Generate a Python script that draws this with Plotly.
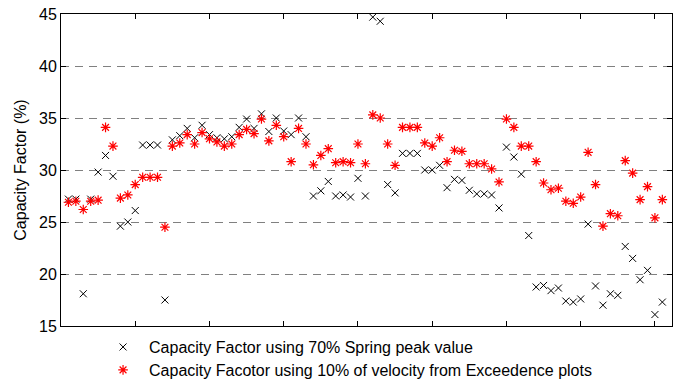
import plotly.graph_objects as go

idx = list(range(1, 82))

spring70 = [27.2, 27.2, 18.1, 27.2, 29.8, 31.4, 29.4, 24.6, 25.0, 26.1,
            32.4, 32.4, 32.4, 17.5, 32.9, 33.3, 34.0, 33.1, 34.3, 33.4,
            33.1, 33.0, 33.2, 34.1, 34.9, 34.0, 35.4, 33.7, 35.0, 33.75,
            33.4, 35.0, 33.2, 27.5, 28.0, 28.9, 27.5, 27.6, 27.4, 29.2,
            27.5, 44.7, 44.3, 28.6, 27.8, 31.6, 31.6, 31.6, 30.0, 30.0,
            30.45, 28.3, 29.1, 29.0, 28.05, 27.7, 27.7, 27.6, 26.35, 32.2,
            31.25, 29.6, 23.7, 18.75, 18.9, 18.4, 18.65, 17.4, 17.3, 17.6,
            24.8, 18.85, 17.0, 18.1, 17.95, 22.65, 21.5, 19.45, 20.35, 16.1,
            17.3]

exceed10 = [26.9, 27.0, 26.2, 27.0, 27.1, 34.1, 32.3, 27.3, 27.6, 28.6,
            29.3, 29.3, 29.3, 24.5, 32.3, 32.6, 33.4, 32.5, 33.6, 33.0,
            32.7, 32.3, 32.5, 33.4, 33.9, 33.5, 34.9, 32.8, 34.3, 33.2,
            30.8, 34.0, 32.5, 30.5, 31.4, 32.05, 30.7, 30.8, 30.7, 32.5,
            30.6, 35.3, 35.0, 32.5, 30.45, 34.1, 34.1, 34.1, 32.6, 32.3,
            33.1, 30.8, 31.9, 31.8, 30.6, 30.6, 30.6, 30.1, 28.85, 34.9,
            34.1, 32.3, 32.3, 30.8, 28.75, 28.1, 28.25, 27.0, 26.8, 27.4,
            31.7, 28.6, 24.6, 25.8, 25.6, 30.9, 29.7, 27.15, 28.4, 25.4,
            27.15]

y_ticks = [15, 20, 25, 30, 35, 40, 45]
x_ticks = [10, 20, 30, 40, 50, 60, 70, 80]

name1 = "Capacity Factor using 70% Spring peak value"
name2 = "Capacity Facotor using 10% of velocity from Exceedence plots"

FONT = "Arial, Liberation Sans, sans-serif"

fig = go.Figure()
fig.add_trace(go.Scatter(
    x=idx, y=spring70, mode="markers", name=name1, legend="legend",
    marker=dict(symbol="x-thin-open", size=7, color="black",
                line=dict(color="black", width=1)),
))
fig.add_trace(go.Scatter(
    x=idx, y=exceed10, mode="markers", name=name2, legend="legend2",
    marker=dict(symbol="asterisk-open", size=8, color="red",
                line=dict(color="red", width=1.2)),
))

leg_common = dict(xanchor="left", yanchor="top", orientation="v",
                  bgcolor="rgba(0,0,0,0)", itemwidth=42,
                  font=dict(family=FONT, size=16, color="black"))

fig.update_layout(
    width=686, height=383,
    margin=dict(l=61, r=14, t=14, b=57, autoexpand=False),
    paper_bgcolor="white", plot_bgcolor="white",
    font=dict(family=FONT, size=16, color="black"),
    showlegend=True,
    legend=dict(x=0.059, y=-0.013, **leg_common),
    legend2=dict(x=0.059, y=-0.0865, **leg_common),
)
fig.update_xaxes(
    range=[0, 82.3], tickvals=x_ticks, showticklabels=False,
    ticks="inside", ticklen=5, tickcolor="black",
    showline=True, linecolor="black", linewidth=1, mirror="ticks",
    showgrid=False, zeroline=False,
)
fig.update_yaxes(
    range=[15, 45], tickvals=y_ticks, ticks="inside", ticklen=5,
    tickcolor="black", showline=True, linecolor="black", linewidth=1,
    mirror="ticks", showgrid=True, gridcolor="#808080", gridwidth=1.2,
    griddash="8px,6px", zeroline=False,
    title=dict(text="Capacity Factor (%)", font=dict(family=FONT, size=16), standoff=8),
    tickfont=dict(family=FONT, size=16, color="black"),
)

fig.write_html("out.html")
